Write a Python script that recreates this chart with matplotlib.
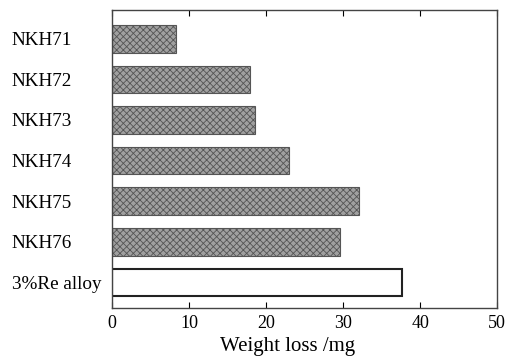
import matplotlib.pyplot as plt

plt.rcParams['font.family'] = ['Liberation Serif', 'DejaVu Serif']
plt.rcParams['hatch.linewidth'] = 0.6

# data
alloys = ["NKH71", "NKH72", "NKH73", "NKH74", "NKH75", "NKH76", "3%Re alloy"]
weight_loss = [8.3, 17.9, 18.5, 23.0, 32.1, 29.6, 37.6]

fig = plt.figure(figsize=(5.09, 3.56), dpi=100)
ax = fig.add_axes([0.22, 0.134, 0.757, 0.838])

pos = list(range(len(alloys)))
for i, (name, val) in enumerate(zip(alloys, weight_loss)):
    if name.startswith("NKH"):
        ax.barh(pos[i], val, height=0.68, color='#a0a0a0', edgecolor='#555555',
                hatch='xxxxx', linewidth=0.8)
    else:
        # reference alloy drawn as an open bar
        ax.barh(pos[i], val, height=0.68, color='white', edgecolor='#222222',
                linewidth=1.5)

ax.set_xlim(0, 50)
ax.set_ylim(6.64, -0.71)
ax.set_xticks([0, 10, 20, 30, 40, 50])
ax.set_yticks(pos)
ax.set_yticklabels(alloys)
ax.tick_params(axis='x', direction='in', top=True, length=4, labelsize=13, pad=5)
ax.tick_params(axis='y', length=0, labelsize=13.8, pad=72)
for lbl in ax.get_yticklabels():
    lbl.set_ha('left')
ax.set_xlabel("Weight loss /mg", fontsize=15)
ax.xaxis.set_label_coords(0.455, -0.097)

for s in ax.spines.values():
    s.set_color('#444444')
    s.set_linewidth(1.0)

plt.savefig("out.png")
